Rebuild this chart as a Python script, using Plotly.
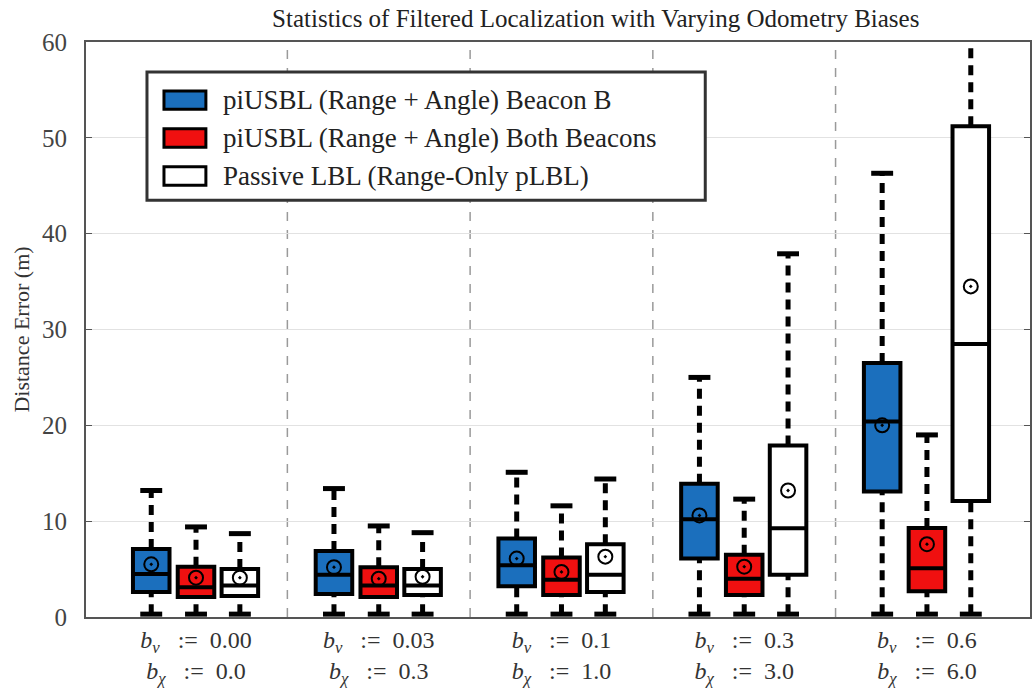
import plotly.graph_objects as go

# ---- data ----
groups = [1, 2, 3, 4, 5]
NB = "\u00a0"
bv = ["0.00", "0.03", "0.1", "0.3", "0.6"]
bchi = ["0.0", "0.3", "1.0", "3.0", "6.0"]
tick_labels = [
    f"<i>b</i><sub><i>v</i></sub>{NB*3}:={NB*2}{a}<br><i>b</i><sub><i>χ</i></sub>{NB*3}:={NB*2}{b}"
    for a, b in zip(bv, bchi)
]
series_names = [
    "piUSBL (Range + Angle) Beacon B",
    "piUSBL (Range + Angle) Both Beacons",
    "Passive LBL (Range-Only pLBL)",
]
blue_low = [0.3, 0.3, 0.3, 0.3, 0.3]
blue_q1 = [2.6, 2.4, 3.2, 6.1, 13.1]
blue_med = [4.5, 4.4, 5.4, 10.2, 20.4]
blue_q3 = [7.1, 6.9, 8.2, 13.9, 26.5]
blue_high = [13.2, 13.4, 15.1, 25.0, 46.3]
blue_mean = [5.5, 5.2, 6.1, 10.6, 20.0]

red_low = [0.3, 0.3, 0.3, 0.3, 0.3]
red_q1 = [2.1, 2.1, 2.3, 2.3, 2.7]
red_med = [3.1, 3.3, 3.9, 4.0, 5.1]
red_q3 = [5.25, 5.2, 6.2, 6.5, 9.3]
red_high = [9.4, 9.5, 11.6, 12.3, 19.0]
red_mean = [4.1, 4.0, 4.7, 5.25, 7.6]

white_low = [0.3, 0.3, 0.3, 0.3, 0.3]
white_q1 = [2.2, 2.3, 2.6, 4.4, 12.1]
white_med = [3.3, 3.3, 4.4, 9.25, 28.5]
white_q3 = [5.0, 5.0, 7.6, 17.9, 51.2]
white_high = [8.7, 8.8, 14.4, 37.9, 66.0]
white_mean = [4.1, 4.2, 6.3, 13.2, 34.5]

colors = ["#1b6fbd", "#f01010", "#ffffff"]
offsets = [-0.245, 0.0, 0.24]
box_width = 0.2
cap_width = 0.12

series = [
    (blue_low, blue_q1, blue_med, blue_q3, blue_high, blue_mean),
    (red_low, red_q1, red_med, red_q3, red_high, red_mean),
    (white_low, white_q1, white_med, white_q3, white_high, white_mean),
]

fig = go.Figure()
serif = "Liberation Serif"

# whiskers (dashed) and caps
for (low, q1, med, q3, high, mean), off in zip(series, offsets):
    xs = [g + off for g in groups]
    wx, wy, cx, cy = [], [], [], []
    for x, lo, a, b, hi in zip(xs, low, q1, q3, high):
        wx += [x, x, None, x, x, None]
        wy += [lo, a, None, b, hi, None]
        cx += [x - cap_width / 2, x + cap_width / 2, None]
        cy += [lo, lo, None]
        if hi <= 60:
            cx += [x - cap_width / 2, x + cap_width / 2, None]
            cy += [hi, hi, None]
    fig.add_trace(go.Scatter(x=wx, y=wy, mode="lines", showlegend=False, hoverinfo="skip",
                             line=dict(color="black", width=5, dash="10px,7px")))
    fig.add_trace(go.Scatter(x=cx, y=cy, mode="lines", showlegend=False, hoverinfo="skip",
                             line=dict(color="black", width=5)))

# boxes
for (low, q1, med, q3, high, mean), off, col, name in zip(series, offsets, colors, series_names):
    xs = [g + off for g in groups]
    fig.add_trace(go.Box(
        x=xs, q1=q1, median=med, q3=q3, lowerfence=q1, upperfence=q3,
        width=box_width, whiskerwidth=0, name=name, fillcolor=col, showlegend=False,
        line=dict(color="black", width=4), boxpoints=False,
    ))

# means
for (low, q1, med, q3, high, mean), off in zip(series, offsets):
    xs = [g + off for g in groups]
    fig.add_trace(go.Scatter(x=xs, y=mean, mode="markers", showlegend=False,
                             marker=dict(symbol="circle-open-dot", size=14, color="black",
                                         line=dict(width=2, color="black"))))

# group separators
for g in groups[:-1]:
    fig.add_shape(type="line", xref="x", yref="paper", x0=g + 0.5, x1=g + 0.5, y0=0, y1=1,
                  line=dict(color="#9a9a9a", width=1.5, dash="dash"), layer="below")

# legend (drawn manually to match large swatches)
fig.add_shape(type="rect", xref="paper", yref="paper", x0=0.0646, x1=0.656, y0=0.725, y1=0.948,
              line=dict(color="#333", width=3), fillcolor="white", layer="above")
row_y = [0.899, 0.833, 0.767]
for ry, col, name in zip(row_y, colors, series_names):
    fig.add_shape(type="rect", xref="paper", yref="paper", x0=0.0826, x1=0.127,
                  y0=ry - 0.016, y1=ry + 0.016, line=dict(color="black", width=3),
                  fillcolor=col, layer="above")
    fig.add_annotation(xref="paper", yref="paper", x=0.143, y=ry, xanchor="left",
                       yanchor="middle", text=name, showarrow=False,
                       font=dict(family=serif, size=27, color="#222"))

fig.update_layout(
    width=1035, height=690,
    margin=dict(l=86, r=5, t=42, b=73),
    paper_bgcolor="white", plot_bgcolor="white",
    boxmode="overlay",
    showlegend=False,
    title=dict(text="Statistics of Filtered Localization with Varying Odometry Biases",
               xref="paper", x=0.54, xanchor="center", y=0.974, yanchor="middle",
               font=dict(family=serif, size=25, color="#222")),
    font=dict(family=serif, color="#333"),
    xaxis=dict(range=[0.398, 5.564], tickmode="array", tickvals=groups, ticktext=tick_labels,
               tickfont=dict(family=serif, size=24, color="#333"), ticks="", showgrid=False,
               automargin=False,
               showline=True, linecolor="#555", linewidth=2, mirror=True, zeroline=False),
    yaxis=dict(range=[0, 60], tickvals=[0, 10, 20, 30, 40, 50, 60],
               tickfont=dict(family=serif, size=25, color="#444"),
               ticks="inside", ticklen=6, tickcolor="#555", ticklabelstandoff=12,
               showgrid=True, gridcolor="#e2e2e2", gridwidth=1, automargin=False,
               showline=True, linecolor="#555", linewidth=2, mirror="ticks", zeroline=False,
               title=dict(text="Distance Error (m)", font=dict(family=serif, size=22, color="#333"),
                          standoff=6)),
)

fig.write_html("out.html")
